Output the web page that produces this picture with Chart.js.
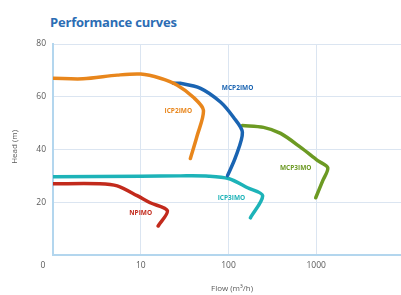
<!DOCTYPE html>
<html lang="en">
<head>
    <meta charset="UTF-8">
    <title>Performance curves</title>
    <script src="https://cdn.jsdelivr.net/npm/chart.js@4.4.0/dist/chart.umd.min.js"></script>
    <style>
        body {
            margin: 0;
            padding: 0;
            background: #ffffff;
            font-family: 'Open Sans', sans-serif;
        }
        .wrap {
            position: relative;
            width: 401px;
            height: 295px;
        }
        .title {
            position: absolute;
            left: 50px;
            top: 13px;
            font-size: 13px;
            font-weight: bold;
            color: #2c6db4;
            letter-spacing: -0.2px;
        }
        #perfChart {
            position: absolute;
            left: 0;
            top: 0;
        }
    </style>
</head>
<body>

<div class="wrap">
    <div class="title">Performance curves</div>
    <canvas id="perfChart" width="401" height="295"></canvas>
</div>

<script>
    // Axis ticks
    const xTicks = [1, 10, 100, 1000];
    const xTickLabels = ['0', '10', '100', '1000'];
    const yTicks = [20, 40, 60, 80];

    // Curves (flow m3/h, head m)
    const icp2Flow = [1, 2.2, 5.4, 10, 16.7, 26.1, 39.8, 51.8, 44, 36.8];
    const icp2Head = [67, 66.8, 68.2, 68.6, 67, 64.4, 59.8, 54.9, 45.3, 36.6];

    const mcp2Flow = [23.5, 28.3, 48, 81, 114, 144, 120, 97.5];
    const mcp2Head = [65.1, 65.1, 63.2, 58, 52.2, 46.5, 37, 30.1];

    const mcp3Flow = [144, 251, 393, 665, 1040, 1353, 1187, 987];
    const mcp3Head = [49.1, 48.4, 46.1, 40.8, 35.8, 33.1, 28.2, 21.7];

    const icp3Flow = [1, 10, 28.3, 60, 100, 165, 245, 178];
    const icp3Head = [29.7, 29.9, 30.0, 29.9, 29.0, 25.5, 22.5, 14.1];

    const npFlow = [1, 3.4, 5.4, 9.1, 12.8, 20.1, 15.8];
    const npHead = [27, 27, 26.2, 22.5, 19.8, 16.8, 11];

    // Curve names and where they are written
    const curveNames = ['ICP2IMO', 'MCP2IMO', 'MCP3IMO', 'ICP3IMO', 'NPIMO'];
    const curveColors = ['#e8861c', '#1a64b2', '#6c9a23', '#1db3b8', '#c22a1c'];
    const labelFlow = [26.8, 127, 583, 108, 10];
    const labelHead = [54.5, 63.2, 32.8, 21.7, 16];

    function toPoints(flow, head) {
        return flow.map((f, i) => ({ x: f, y: head[i] }));
    }

    const curves = [
        toPoints(icp2Flow, icp2Head),
        toPoints(mcp2Flow, mcp2Head),
        toPoints(mcp3Flow, mcp3Head),
        toPoints(icp3Flow, icp3Head),
        toPoints(npFlow, npHead)
    ];

    const textColor = '#5a5a5a';

    // Tick labels, axis titles and curve names
    const textPlugin = {
        id: 'textPlugin',
        afterDraw(chart) {
            const c = chart.ctx;
            const xs = chart.scales.x;
            const ys = chart.scales.y;
            const area = chart.chartArea;
            c.save();
            c.fillStyle = textColor;
            c.font = '8.5px "Open Sans"';
            c.textBaseline = 'middle';

            c.textAlign = 'center';
            xTicks.forEach((v, i) => {
                let px = xs.getPixelForValue(v);
                if (i === 0) px -= 10;
                c.fillText(xTickLabels[i], px, area.bottom + 11);
            });

            c.textAlign = 'right';
            yTicks.forEach(v => {
                c.fillText(String(v), area.left - 7, ys.getPixelForValue(v));
            });

            c.font = '8px "Open Sans"';
            c.textAlign = 'center';
            c.fillText('Flow (m³/h)', (area.left + area.right) / 2 + 5, area.bottom + 34);

            c.save();
            c.translate(15, ys.getPixelForValue(41));
            c.rotate(-Math.PI / 2);
            c.fillText('Head (m)', 0, 0);
            c.restore();

            c.font = 'bold 6.5px "Open Sans"';
            curveNames.forEach((name, i) => {
                c.fillStyle = curveColors[i];
                c.fillText(name, xs.getPixelForValue(labelFlow[i]), ys.getPixelForValue(labelHead[i]));
            });
            c.restore();
        }
    };

    const ctx = document.getElementById('perfChart').getContext('2d');
    const perfChart = new Chart(ctx, {
        type: 'line',
        data: {
            datasets: curves.map((pts, i) => ({
                label: curveNames[i],
                data: pts,
                borderColor: curveColors[i],
                borderWidth: 3.5,
                borderCapStyle: 'round',
                borderJoinStyle: 'round',
                pointRadius: 0,
                tension: 0.3,
                fill: false
            }))
        },
        options: {
            responsive: false,
            animation: false,
            layout: {
                padding: { left: 53, top: 44, right: 0, bottom: 40 }
            },
            plugins: {
                legend: { display: false },
                tooltip: { enabled: false },
                title: { display: false }
            },
            scales: {
                x: {
                    type: 'logarithmic',
                    min: 1,
                    max: 9250,
                    afterBuildTicks(scale) {
                        scale.ticks = xTicks.map(v => ({ value: v }));
                    },
                    ticks: { display: false },
                    grid: { color: '#dbe5f1', lineWidth: 1, drawTicks: false },
                    border: { color: '#b3d6ee', width: 2 }
                },
                y: {
                    min: 0,
                    max: 80,
                    afterBuildTicks(scale) {
                        scale.ticks = [0].concat(yTicks).map(v => ({ value: v }));
                    },
                    ticks: { display: false },
                    grid: { color: '#dbe5f1', lineWidth: 1, drawTicks: false },
                    border: { color: '#b3d6ee', width: 2 }
                }
            }
        },
        plugins: [textPlugin]
    });
</script>

</body>
</html>
